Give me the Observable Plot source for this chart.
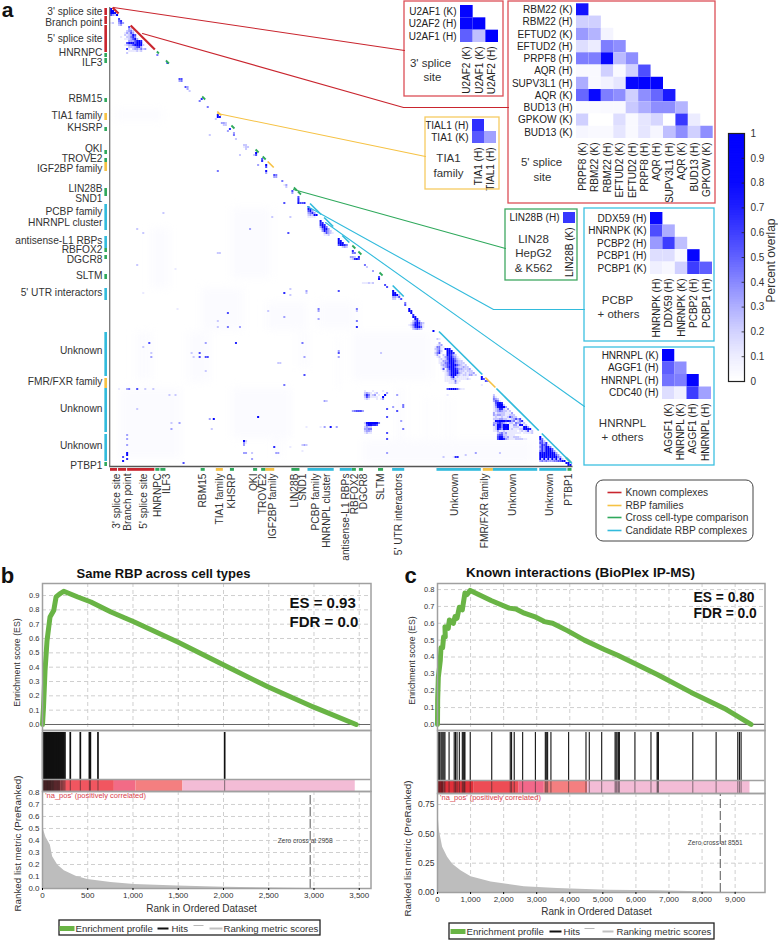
<!DOCTYPE html>
<html><head><meta charset="utf-8">
<script src="https://cdn.jsdelivr.net/npm/d3@7"></script>
<script src="https://cdn.jsdelivr.net/npm/@observablehq/plot@0.6"></script>
<style>
html,body{margin:0;padding:0;background:#fff}
#page{position:relative;width:778px;height:940px;overflow:hidden;font-family:"Liberation Sans",Arial,sans-serif}
#page svg{position:absolute;background:transparent;overflow:visible;font-family:"Liberation Sans",Arial,sans-serif}
</style></head><body><div id="page"></div>
<script>
// ---------- colours
const KIND = {known:"#c9252e", family:"#f6c244", cross:"#2fa95c", candidate:"#32bbdc"};
const colorStops = [0,.1,.2,.3,.4,.5,.6,.7,.8,1];
const colorRange = ["#ffffff","#ececff","#d0d0ff","#adadff","#8686ff","#5f5fff","#3d3dff","#1e1eff","#0808ff","#0000ff"];
const colorScale = {type:"linear",domain:colorStops,range:colorRange,interpolate:"rgb"};

// ---------- panel a: sparse matrix, [row, first column, one digit per cell (0 = empty, 9 = full overlap)]
const matrixRuns = [
[0,0,"9"],[1,0,"99"],[2,0,"987"],[3,0,"5329"],[5,4,"5"],[6,4,"46"],[7,0,"12"],[7,4,"353"],[8,4,"23"],
[9,9,"5"],[10,9,"32"],[11,8,"2342"],[12,7,"13253"],[13,7,"212375"],[14,5,"10022464"],[15,7,"1123583"],[16,9,"3335796"],
[17,8,"57775997"],[18,7,"1233579982"],[19,9,"2223563"],[20,8,"6102332423"],[21,9,"1111212"],[22,8,"2"],[23,23,"4"],[27,28,"6"],
[35,34,"55"],[36,34,"34"],[39,37,"53"],[40,38,"3"],[41,39,"2"],[45,45,"6"],[46,44,"4"],[49,48,"4"],
[53,53,"8"],[54,53,"97"],[55,52,"2"],[57,55,"332"],[58,56,"22"],[60,59,"6"],[61,58,"3"],[62,61,"3"],[63,61,"4"],[63,49,"2"],[65,62,"2"],
[68,66,"22"],[69,66,"122"],[70,67,"2"],[73,64,"2"],[72,72,"9"],[73,71,"25"],[75,75,"5"],[76,75,"6"],[78,73,"3"],[78,77,"8"],[79,77,"5"],
[81,53,"4"],[81,77,"7"],[82,77,"3"],[83,81,"54"],[84,81,"33"],[86,85,"4"],[88,86,"13"],[89,87,"2"],[91,90,"5"],[92,90,"3"],
[94,93,"5"],[95,93,"6"],[96,93,"6"],[97,86,"5"],[97,93,"7556"],
[99,98,"5"],[100,98,"76"],[101,98,"573"],[102,26,"2"],[102,98,"3463"],[103,98,"23289"],[104,80,"2"],[104,89,"2"],[104,98,"1111"],
[106,104,"7"],[107,104,"66"],[108,104,"686"],[109,104,"3784"],[110,13,"2"],[110,69,"3"],[110,104,"14873"],[111,105,"37532"],[112,16,"2"],[112,88,"5"],[112,106,"25321"],[113,106,"112"],
[115,113,"9"],[116,113,"77"],[117,113,"887"],[118,113,"58764"],[119,115,"232"],[121,120,"6"],[122,53,"22"],[122,120,"44"],
[124,119,"332"],[124,123,"6"],[125,119,"12675"],[128,13,"2"],[128,126,"4"],[129,127,"2"],[130,32,"1"],[131,130,"3"],[134,133,"5"],[135,133,"7"],
[137,125,"111212"],[138,136,"5"],[139,137,"5"],[140,89,"2"],[141,97,"3"],[141,113,"5"],[141,140,"8"],[142,16,"1"],[142,86,"6"],[142,97,"2"],[142,140,"77"],[143,89,"2"],[143,140,"8992"],
[144,140,"3325"],[145,140,"22015"],[147,146,"4"],[148,146,"5"],[150,33,"1"],[150,103,"4"],[150,122,"4"],[150,148,"9"],[151,78,"2"],[151,103,"3"],[151,122,"2"],[151,148,"87"],
[152,58,"5"],[152,149,"9"],[153,150,"6"],[154,86,"3"],[154,150,"87"],[155,103,"3"],[155,151,"96"],[156,53,"2"],[156,122,"4"],[156,150,"2473"],
[157,149,"1369632"],[158,148,"12479531"],[159,53,"2"],[159,58,"4"],[159,64,"3"],[159,122,"6"],[159,149,"1369851"],[160,150,"23432"],[161,160,"9"],
[165,162,"21"],[167,19,"5"],[167,47,"3"],[167,62,"6"],[167,95,"4"],[167,163,"3"],
[168,161,"0123"],[169,16,"2"],[169,161,"14411"],[170,161,"23410997"],[171,113,"3"],[171,161,"135200898"],
[172,20,"2"],[172,40,"2"],[172,44,"5"],[172,113,"5"],[172,134,"2"],[172,161,"2461009976"],
[173,161,"13102187632"],[174,20,"3"],[174,41,"2"],[174,44,"5"],[174,47,"55"],[174,96,"3"],[174,113,"3"],[174,161,"012013577431"],
[175,161,"0012125896421"],[176,161,"00113348975322"],[177,83,"22"],[177,161,"001224579843222"],[178,161,"0002335699853212"],[179,161,"00012357995322322"],
[180,161,"000150368975332223"],[181,47,"2"],[181,161,"0000113489862221222"],[182,161,"00000124799732121223"],[183,96,"5"],[183,161,"000001249993212213312"],
[184,166,"111481211111"],[184,184,"9"],[185,166,"1112321111121"],[185,184,"95"],[186,166,"11111411"],[186,186,"54"],[187,168,"11131"],[188,86,"4"],[188,184,"1"],
[190,4,"1"],[190,8,"340005"],[190,17,"2"],[190,21,"2"],[190,167,"579985211"],
[191,126,"1000100001"],[192,126,"232101200003"],[193,29,"2"],[193,32,"2"],[193,126,"36412301008"],[193,142,"3"],[193,167,"1"],[193,190,"2"],
[194,126,"2531111009"],[194,190,"31"],[195,126,"1210001013"],[195,190,"432"],[196,106,"32"],[196,190,"3541"],[197,190,"15786"],[198,145,"4"],[198,190,"148992"],
[199,140,"3"],[199,145,"4"],[199,190,"1379983"],[200,13,"2"],[200,137,"5"],[200,190,"12366213"],[201,120,"345553"],[201,142,"5"],[201,190,"123432212"],
[202,190,"3122221113"],[203,190,"32332211222"],[204,73,"8"],[204,137,"5"],[204,190,"121121125322"],
[205,49,"30"],[205,51,"8"],[205,190,"22233221123535"],[206,144,"3"],[206,190,"187998676341246"],[207,30,"2"],[207,34,"3"],[207,126,"27998984"],[207,190,"3356432122143312"],
[208,126,"1577665"],[208,190,"42874979113317812"],[209,97,"1"],[209,104,"1"],[209,106,"3"],[209,109,"7"],[209,112,"3"],[209,126,"2322"],[209,190,"128748891122211883"],
[210,30,"3"],[210,50,"2"],[210,126,"3344"],[210,145,"4"],[210,190,"1285387912111228987"],[211,126,"2332"],[211,190,"11311211111101212512"],[212,126,"1211"],[212,137,"5"],[212,192,"234231111111011112"],
[213,8,"3"],[213,192,"455221111"],[214,192,"577323112221"],[214,213,"8"],[215,8,"3"],[215,137,"5"],[215,192,"588632111222211"],[215,213,"74"],
[216,66,"82"],[216,213,"452"],[217,66,"31"],[217,213,"5536"],[218,8,"3"],[218,66,"3"],[218,95,"232"],[218,213,"36562"],[219,81,"6"],[219,89,"1"],[219,213,"464894"],
[220,213,"3648985"],[221,95,"1"],[221,213,"46489963"],[222,8,"7"],[222,66,"33"],[222,70,"2"],[222,82,"33"],[222,137,"3"],[222,181,"3"],[222,193,"2"],[222,213,"978999973"],
[223,8,"7"],[223,176,"2"],[223,213,"9998998953"],[224,6,"5"],[224,165,"2"],[224,170,"166"],[224,213,"89897989943"],[225,8,"6"],[225,70,"3"],[225,213,"929292939292"],
[226,6,"7"],[226,213,"3434333445579"],[227,36,"5"],[227,226,"89"],[228,227,"89"]
];
// pale background patches of the matrix: first column, last column, first row, last row
const hazeCol1 = [13,39,94,112,45,78,103,5,81,142,157,167,2,60,120,20,60,190,150,125];
const hazeCol2 = [21,50,98,114,66,98,122,35,85,146,159,169,26,90,160,30,80,210,200,160];
const hazeRow1 = [162,162,162,165,140,147,147,190,192,190,195,195,51,190,162,110,100,216,216,216];
const hazeRow2 = [186,187,180,190,161,161,160,225,225,225,215,220,56,215,186,140,135,228,228,228];

// grouped annotations: label, first index, last index, kind
const groupNames = ["3' splice site","Branch point","5' splice site","HNRNPC","ILF3","RBM15","TIA1 family","KHSRP","QKI","TROVE2","IGF2BP family","LIN28B","PCBP family","antisense-L1 RBPs","RBFOX2","DGCR8","SLTM","5' UTR interactors","Unknown","FMR/FXR family","Unknown","Unknown","PTBP1"];
const groupStart = [0,4,8.5,22.5,25,45,52.5,59.5,71,75,77,90,98,114,120,123.5,133,140,162,185,190,213,227];
const groupEnd   = [3.5,8,22,24.5,27.5,47,56,61.5,73,77,81.5,94,111,120,122,125.5,135.5,146,184,190,212,226.5,229];
const groupKind  = ["known","known","known","cross","cross","cross","family","cross","cross","cross","family","cross","candidate","candidate","cross","cross","cross","candidate","candidate","family","candidate","candidate","cross"];
const axisLabels = ["3' splice site","Branch point","5' splice site","HNRNPC","ILF3","RBM15","TIA1 family","KHSRP","QKI","TROVE2","IGF2BP family","LIN28B","SND1","PCBP family","HNRNPL cluster","antisense-L1 RBPs","RBFOX2","DGCR8","SLTM","5' UTR interactors","Unknown","FMR/FXR family","Unknown","Unknown","PTBP1"];
const labelRow = [1.8,7,15,22,27,45.3,53.8,59.8,70,75,80,90,95,101.5,107,116,120.5,125.5,133.5,142,171,186.5,200,218.5,228.5];
const labelCol = [3,8.5,16.5,23.5,28,46,54,60,71,75.5,80.5,91.5,95.5,102,107.5,116.5,121,125.5,134,143,171,185.5,199.5,218,227.5];
// spans of the diagonal picked out by a coloured line
const spanStart = [1,10,53,78,186,23,27.5,45.5,60,72,75.5,91,93,120,123,133.5,226,99,106,115,140,163,191.5,214];
const spanEnd   = [4,22,55,81,191,24,29,47,61.5,73.5,77,92.5,94.5,121.5,124.5,135,228.5,104.5,110.5,118.5,145.5,184.5,212.5,229];
const spanKind  = ["known","known","family","family","family","cross","cross","cross","cross","cross","cross","cross","cross","cross","cross","cross","cross","candidate","candidate","candidate","candidate","candidate","candidate","candidate"];

// ---------- zoomed matrices
const rows3 = ["U2AF1 (K)","U2AF2 (H)","U2AF1 (H)"], cols3 = ["U2AF2 (K)","U2AF1 (K)","U2AF2 (H)"];
const vals3 = [[.9],[.85,.95],[.5,.25,1]];
const rows5 = ["RBM22 (K)","RBM22 (H)","EFTUD2 (K)","EFTUD2 (H)","PRPF8 (H)","AQR (H)","SUPV3L1 (H)","AQR (K)","BUD13 (H)","GPKOW (K)","BUD13 (K)"];
const cols5 = ["PRPF8 (K)","RBM22 (K)","RBM22 (H)","EFTUD2 (K)","EFTUD2 (H)","PRPF8 (H)","AQR (H)","SUPV3L1 (H)","AQR (K)","BUD13 (H)","GPKOW (K)"];
const vals5 = [[.75],[.2,.2],[.35,.28,.06],[.15,.1,.42,.38],[.42,.42,.8,.26,.38],[.03,.03,.2,.03,.2,.55],[.3,.03,.07,.12,.85,.95,.9],[.48,.8,.42,.38,.2,.38,.48,.72],[.02,.02,.03,.03,.22,.3,.38,.38,.28],[.2,0,0,.15,.03,.12,.18,0,.62,.1],[.05,.03,.03,.12,.03,.12,.05,.25,.38,.2,.38]];
const rowsT = ["TIAL1 (H)","TIA1 (K)"], colsT = ["TIA1 (H)","TIAL1 (H)"], valsT = [[.65],[.52,.33]];
const rowsL = ["LIN28B (H)"], colsL = ["LIN28B (K)"], valsL = [[.62]];
const rowsP = ["DDX59 (H)","HNRNPK (K)","PCBP2 (H)","PCBP1 (H)","PCBP1 (K)"], colsP = ["HNRNPK (H)","DDX59 (H)","HNRNPK (K)","PCBP2 (H)","PCBP1 (H)"];
const valsP = [[.8],[.55,.3],[.35,.6,.25],[.15,.15,.03,.85],[.08,.04,.2,.6,.5]];
const rowsH = ["HNRNPL (K)","AGGF1 (H)","HNRNPL (H)","CDC40 (H)"], colsH = ["AGGF1 (K)","HNRNPL (K)","AGGF1 (H)","HNRNPL (H)"];
const valsH = [[.95],[.5,.38],[.45,.42,.9],[.15,.08,.6,.33]];

// ---------- panels b and c
const bRank = [0,11,28,50,83,124,150,187,235,390,535,757,1015,1494,1992,2490,3005,3466];
const bES   = [0,.12,.375,.585,.75,.795,.89,.91,.93,.89,.855,.785,.715,.575,.418,.263,.119,0];
const bHits = [2,7,12,16,21,26,30,35,40,45,50,54,58,63,68,72,77,82,87,91,96,101,106,110,115,120,125,130,136,142,148,154,160,166,172,178,184,190,196,210,222,235,248,307,418,518,529,613,2013];
const bBandEnd = [100,200,794,1033,1552,3456];
const bBandFill = ["#c8202c","#e83a48","#f15660","#f26b86","#f47f80","#f3bcd6"];
const bMetricRank = [0,13,39,87,112,168,241,370,499,757,1015,1494,2010,2968,3456];
const bMetric = [.6,.485,.425,.36,.265,.195,.147,.103,.075,.05,.033,.02,.011,0,0];
const cRank = [0,5,25,85,105,155,185,235,225,325,360,480,530,590,660,750,830,890,990,1620,2170,2370,2625,2930,3230,3480,3940,4440,5045,5450,6660,7670,8675,9480];
const cES   = [0,.145,.28,.38,.455,.455,.52,.52,.58,.57,.62,.6,.64,.63,.695,.68,.78,.77,.795,.735,.69,.685,.66,.64,.61,.6,.555,.5,.445,.41,.295,.19,.095,0];
const cHits = [25,65,105,135,165,195,225,350,505,545,590,660,750,780,810,830,990,1640,2200,2240,2320,2575,2960,3260,3290,3330,3430,3965,4490,4590,4965,5370,5400,5430,5470,5500,5970,6455,6640,6660,6680,7720,8425,9080,9130,9180];
const cBandEnd = [200,1110,2470,3230,4540,9450];
const cBandFill = ["#b81824","#e0303a","#ee4c55","#f2688a","#f47f80","#f3bcd6"];
const cMetricRank = [0,55,155,305,460,710,1015,1620,2625,3630,5145,6655,8520,9450];
const cMetric = [.73,.53,.385,.3,.24,.185,.135,.09,.05,.034,.02,.014,.003,0];

// ---------- page layout (annotation furniture, in page pixels)
const boxes = [
 {x1:404,y1:1,x2:503,y2:96,c:"#dc4f57"},{x1:508,y1:1,x2:715,y2:203,c:"#dc4f57"},{x1:425,y1:117,x2:499,y2:189,c:"#f6cb62"},
 {x1:505,y1:209,x2:577,y2:280,c:"#3fa862"},{x1:584,y1:208,x2:714,y2:341,c:"#3cc0e0"},{x1:584,y1:347,x2:714,y2:465,c:"#3cc0e0"}];
const connectors = [
 {pts:[[113,7],[404,50]],c:"#c9252e"},{pts:[[142,33],[403,107],[508,107]],c:"#c9252e"},{pts:[[217,113],[425,156]],c:"#f6c244"},
 {pts:[[293,189],[505,248]],c:"#2fa95c"},{pts:[[307,206],[493,309],[584,309]],c:"#32bbdc"},{pts:[[325,222],[584,406]],c:"#32bbdc"}];
const caps = [
 ["a",7,10,21,"middle",0,"bold","#111"],["b",7,575,22,"middle",0,"bold","#111"],["c",410,575,22,"middle",0,"bold","#111"],
 ["3' splice",430,63,11.5],["site",432,77,11.5],["5' splice",541,162,11.5],["site",542,177,11.5],["TIA1",448,158,11.5],["family",448,173,11.5],
 ["LIN28",533,239,11.5],["HepG2",533,253,11.5],["& K562",533,268,11.5],["PCBP",617,300,11.5],["+ others",618,314,11.5],["HNRNPL",622,423,11.5],["+ others",622,437,11.5],
 ["Percent overlap",771,260,12,"middle",-90],
 ["Same RBP across cell types",163,573,13,"middle",0,"bold","#111"],["Known interactions (BioPlex IP-MS)",580,572,13.5,"middle",0,"bold","#111"],
 ["ES = 0.93",289,603,15,"start",0,"bold","#111"],["FDR = 0.0",289,622,15,"start",0,"bold","#111"],
 ["ES = 0.80",693,597,13.8,"start",0,"bold","#111"],["FDR = 0.0",693,613,13.8,"start",0,"bold","#111"],
 ["Enrichment score (ES)",17,662,8.8,"middle",-90],["Ranked list metric (PreRanked)",17,843,9.8,"middle",-90],
 ["Enrichment score (ES)",412,660,8.8,"middle",-90],["Ranked list metric (PreRanked)",407,848,9.8,"middle",-90],
 ["Rank in Ordered Dataset",201,908,10],["Rank in Ordered Dataset",596,911,10],
 ["Known complexes",625,492,10.2,"start"],["RBP families",625,505,10.2,"start"],["Cross cell-type comparison",625,517,10.2,"start"],["Candidate RBP complexes",625,530,10.2,"start"],
 ["Enrichment profile",75,928,9.6,"start"],["Hits",171,928,9.6,"start"],["Ranking metric scores",223,928,9.6,"start"],
 ["Enrichment profile",466,931,9.6,"start"],["Hits",563,931,9.6,"start"],["Ranking metric scores",616,931,9.6,"start"]
];
const keyLines = [
 {x1:607,x2:621,y:492,c:KIND.known,w:1.6},{x1:607,x2:621,y:505,c:KIND.family,w:1.6},{x1:607,x2:621,y:517,c:KIND.cross,w:1.6},{x1:607,x2:621,y:530,c:KIND.candidate,w:1.6},
 {x1:59,x2:74,y:928,c:"#69b445",w:5},{x1:157,x2:168,y:928,c:"#111",w:2},{x1:193,x2:203,y:925,c:"#999",w:.7},{x1:209,x2:222,y:928,c:"#c0c0c0",w:2},
 {x1:450,x2:465,y:931,c:"#69b445",w:5},{x1:549,x2:561,y:931,c:"#111",w:2},{x1:584,x2:594,y:928,c:"#999",w:.7},{x1:602,x2:613,y:931,c:"#c0c0c0",w:2}];
const keyBoxes = [{x1:596,y1:480,x2:753,y2:541,r:7,w:1,c:"#444"},{x1:59,y1:920,x2:320,y2:935,r:0,w:1.3,c:"#222"},{x1:449,y1:923,x2:714,y2:939,r:0,w:1.3,c:"#222"}];

// ---------- drawing
const page = document.getElementById("page");
function place(svg,left,top){svg.style.left=left+"px";svg.style.top=top+"px";page.appendChild(svg);}
const baseStyle = {background:"transparent",fontFamily:"Liberation Sans, Arial, sans-serif",overflow:"visible"};

// matrix cells
const cells = [];
for (const [r,c0,s] of matrixRuns) [...s].forEach((ch,i)=>{const d=+ch; if(d>0) cells.push({c:c0+i,r,v:d/9});});
const haze = hazeCol1.map((c,i)=>({c1:c,c2:hazeCol2[i],r1:hazeRow1[i],r2:hazeRow2[i]}));
const groups = groupNames.map((n,i)=>({n,s:groupStart[i],e:groupEnd[i],k:groupKind[i]}));
const spans = spanStart.map((s,i)=>({s,e:spanEnd[i],k:spanKind[i]}));
const labels = axisLabels.map((n,i)=>({n,r:labelRow[i],c:labelCol[i]}));
const kinds = Object.keys(KIND);
const size = 229;
place(Plot.plot({
  width:778,height:560,margin:0,style:baseStyle,
  x:{domain:[0,size],range:[110,571.5],axis:null},y:{domain:[0,size],range:[8,466],axis:null},color:colorScale,
  marks:[
    Plot.rect(haze,{x1:"c1",x2:"c2",y1:"r1",y2:"r2",fill:"#fbfbff",imageFilter:"blur(4px)"}),
    Plot.rect(cells,{x1:"c",x2:d=>d.c+1,y1:"r",y2:d=>d.r+1,fill:"v",imageFilter:"blur(0.6px)"}),
    Plot.ruleX([-.4],{y1:-.5,y2:size,stroke:"#777",strokeWidth:1.3}),
    Plot.ruleY([size],{x1:-.4,x2:size+.5,stroke:"#555",strokeWidth:1.3}),
    ...kinds.flatMap(k=>{
      const g=groups.filter(d=>d.k===k), sp=spans.filter(d=>d.k===k);
      return [
        Plot.rect(g,{x1:-2.8,x2:-1.5,y1:"s",y2:"e",fill:KIND[k]}),
        Plot.rect(g,{y1:230,y2:231.4,x1:"s",x2:"e",fill:KIND[k]}),
        Plot.link(sp,{x1:"s",y1:d=>d.s-1.5,x2:"e",y2:d=>d.e-1.5,stroke:KIND[k],strokeWidth:k==="cross"?1.8:k==="known"?2.2:1.7})
      ];
    }),
    Plot.text(labels,{x:-4,y:"r",text:"n",textAnchor:"end",fontSize:10.2,fill:"#333"}),
    Plot.text(labels,{x:"c",y:232.5,text:"n",textAnchor:"end",rotate:-90,fontSize:10.2,fill:"#333"})
  ]
}),0,0);

// zoomed triangular matrices
function mini(rows,cols,vals,box,cell){
  const data=[]; vals.forEach((row,r)=>row.forEach((v,c)=>data.push({y:rows[r],x:cols[c],v})));
  place(Plot.plot({
    width:box.x2-box.x1,height:box.y2-box.y1,style:baseStyle,
    marginLeft:cell.x1-box.x1,marginRight:box.x2-cell.x2,marginTop:cell.y1-box.y1,marginBottom:box.y2-cell.y2,
    x:{domain:cols,padding:0,round:false,axis:null},y:{domain:rows,padding:0,round:false,axis:null},color:colorScale,
    marks:[
      Plot.cell(data,{x:"x",y:"y",fill:"v"}),
      Plot.axisX({anchor:"bottom",tickSize:0,tickRotate:-90,tickPadding:4,fontSize:10,label:null,fill:"#222"}),
      Plot.axisY({anchor:"left",tickSize:0,tickPadding:4,fontSize:10,label:null,fill:"#222"})
    ]
  }),box.x1,box.y1);
}
mini(rows3,cols3,vals3,boxes[0],{x1:460,x2:498,y1:5,y2:42});
mini(rows5,cols5,vals5,boxes[1],{x1:576,x2:712.7,y1:3.3,y2:138});
mini(rowsT,colsT,valsT,boxes[2],{x1:472,x2:496,y1:119,y2:143});
mini(rowsL,colsL,valsL,boxes[3],{x1:563,x2:575,y1:212,y2:223});
mini(rowsP,colsP,valsP,boxes[4],{x1:650,x2:712,y1:212,y2:274});
mini(rowsH,colsH,valsH,boxes[5],{x1:662,x2:711,y1:349,y2:399});

// colour bar
const barSteps = d3.range(0,1,.01);
const barTicks = [0,.1,.2,.3,.4,.5,.6,.7,.8,.9,1];
place(Plot.plot({
  width:44,height:248,marginTop:0,marginBottom:0,marginLeft:0,marginRight:28,style:baseStyle,
  x:{domain:[0,1],axis:null},y:{domain:[0,1],axis:null},color:colorScale,
  marks:[
    Plot.rect(barSteps,{x1:0,x2:1,y1:d=>d,y2:d=>Math.min(1,d+.016),fill:d=>d}),
    Plot.ruleY(barTicks,{x1:.85,x2:1,stroke:"#222",strokeWidth:.8}),
    Plot.frame({stroke:"#222",strokeWidth:1.2}),
    Plot.axisY({anchor:"right",ticks:barTicks,tickFormat:d=>d===0?"0":d===1?"1":d3.format(".1f")(d),tickSize:0,tickPadding:6,fontSize:10,label:null,fill:"#333"})
  ]
}),728,133);

// enrichment panels
function gsea(o){
  const w=o.right-o.left, x={domain:[0,o.xMax],axis:null};
  const dash="4,3", gridC="#cfcfcf", frameC="#a0a0a0";
  const es=o.rank.map((r,i)=>({r,v:o.es[i]}));
  const metric=o.mRank.map((r,i)=>({r,v:o.metric[i]}));
  const band=o.bandEnd.map((e,i)=>({s:i?o.bandEnd[i-1]:0,e,f:o.bandFill[i]}));
  const L=30;
  place(Plot.plot({
    width:w+L,height:o.y1-o.y0,marginLeft:L,marginRight:0,marginTop:0,marginBottom:0,style:baseStyle,
    x,y:{domain:o.esDomain,axis:null},
    marks:[
      Plot.ruleX(o.xTicks,{stroke:gridC,strokeDasharray:dash}),
      Plot.ruleY(o.esTicks,{stroke:gridC,strokeDasharray:dash}),
      Plot.ruleY([0],{stroke:"#666",strokeWidth:1.2}),
      Plot.line(es,{x:"r",y:"v",stroke:"#69b445",strokeWidth:5,strokeLinejoin:"round",strokeLinecap:"round"}),
      Plot.frame({stroke:frameC,strokeWidth:1.5}),
      Plot.axisY({ticks:o.esTicks,tickFormat:".1f",tickSize:0,tickPadding:3,fontSize:7.5,label:null,fill:"#333"})
    ]
  }),o.left-L,o.y0);
  const hitBottom=o.y2-o.y1, total=o.y3-o.y1;
  place(Plot.plot({
    width:w+L,height:total,marginLeft:L,marginRight:0,marginTop:0,marginBottom:0,style:baseStyle,
    x,y:{domain:[0,total],reverse:true,axis:null},color:{type:"identity"},
    marks:[
      Plot.rect(band,{x1:"s",x2:"e",y1:hitBottom,y2:total,fill:"f"}),
      Plot.ruleX(o.hits,{y1:2,y2:hitBottom,stroke:"#111",strokeWidth:o.hitW}),
      Plot.ruleX(o.hits,{y1:hitBottom,y2:total,stroke:"#222",strokeWidth:1,strokeOpacity:.55}),
      Plot.ruleY([hitBottom],{stroke:frameC,strokeWidth:1.5}),
      Plot.frame({stroke:frameC,strokeWidth:1.5})
    ]
  }),o.left-L,o.y1);
  const B=24;
  place(Plot.plot({
    width:w+L,height:o.y4-o.y3+B,marginLeft:L,marginRight:0,marginTop:0,marginBottom:B,style:baseStyle,
    x,y:{domain:o.mDomain,axis:null},
    marks:[
      Plot.ruleX(o.xTicks,{stroke:gridC,strokeDasharray:dash}),
      Plot.ruleY(o.mGrid,{stroke:gridC,strokeDasharray:dash}),
      Plot.areaY(metric,{x:"r",y:"v",fill:"#bdbdbd"}),
      Plot.ruleX([o.zero],{y1:0,y2:o.mDomain[1]*.99,stroke:"#666",strokeWidth:1.1,strokeDasharray:"9,3"}),
      Plot.text([o.zeroText],{x:()=>o.zero,y:()=>o.zeroY,text:d=>d,fontSize:6.6,fill:"#444",dx:-5}),
      Plot.text(["'na_pos' (positively correlated)"],{x:()=>o.xMax*.008,y:()=>o.mDomain[1]*.955,text:d=>d,textAnchor:"start",fontSize:7.5,fill:"#d8404c"}),
      Plot.frame({stroke:frameC,strokeWidth:1.5}),
      Plot.axisY({ticks:o.mTicks,tickFormat:o.mFormat,tickSize:0,tickPadding:3,fontSize:o.mFont,label:null,fill:"#333"}),
      Plot.axisX({ticks:o.xTicks0,tickFormat:d3.format(",d"),tickSize:2,tickPadding:2,fontSize:8,label:null,fill:"#333"})
    ]
  }),o.left-L,o.y3);
}
gsea({left:41.5,right:370,y0:583,y1:730,y2:779,y3:791,y4:888,xMax:3630,hitW:1.7,
  xTicks:[500,1000,1500,2000,2500,3000,3500],xTicks0:[0,500,1000,1500,2000,2500,3000,3500],
  esDomain:[-.042,.984],esTicks:[0,.1,.2,.3,.4,.5,.6,.7,.8,.9],rank:bRank,es:bES,hits:bHits,bandEnd:bBandEnd,bandFill:bBandFill,
  mRank:bMetricRank,metric:bMetric,mDomain:[0,.808],mTicks:[0,.1,.2,.3,.4,.5,.6,.7,.8],mGrid:[.1,.2,.3,.4,.5,.6,.7],mFormat:".1f",mFont:8,
  zero:2958,zeroY:.4,zeroText:"Zero cross at 2958"});
gsea({left:436.5,right:764,y0:583,y1:730,y2:780,y3:793,y4:892,xMax:9903,hitW:1.1,
  xTicks:[1000,2000,3000,4000,5000,6000,7000,8000,9000],xTicks0:[0,1000,2000,3000,4000,5000,6000,7000,8000,9000],
  esDomain:[-.036,.836],esTicks:[0,.1,.2,.3,.4,.5,.6,.7,.8],rank:cRank,es:cES,hits:cHits,bandEnd:cBandEnd,bandFill:cBandFill,
  mRank:cMetricRank,metric:cMetric,mDomain:[0,.844],mTicks:[0,.25,.5,.75],mGrid:[.25,.5,.75],mFormat:".2f",mFont:8.5,
  zero:8551,zeroY:.42,zeroText:"Zero cross at 8551"});

// annotation layer
place(Plot.plot({
  width:778,height:940,margin:0,style:baseStyle,
  x:{domain:[0,778],range:[0,778],axis:null},y:{domain:[0,940],range:[0,940],axis:null},
  marks:[
    ...boxes.map(b=>Plot.rect([b],{x1:"x1",x2:"x2",y1:"y1",y2:"y2",stroke:b.c,strokeWidth:1.3,fill:"none"})),
    ...connectors.map(k=>Plot.line(k.pts,{x:d=>d[0],y:d=>d[1],stroke:k.c,strokeWidth:1.1})),
    ...keyBoxes.map(b=>Plot.rect([b],{x1:"x1",x2:"x2",y1:"y1",y2:"y2",stroke:b.c,strokeWidth:b.w,fill:"none",r:b.r})),
    ...keyLines.map(l=>Plot.link([l],{x1:"x1",x2:"x2",y1:"y",y2:"y",stroke:l.c,strokeWidth:l.w})),
    ...caps.map(([t,x,y,s,a="middle",rot=0,w="normal",f="#333"])=>Plot.text([t],{x:()=>x,y:()=>y,text:d=>d,fontSize:s,textAnchor:a,rotate:rot,fontWeight:w,fill:f}))
  ]
}),0,0);
</script></body></html>
